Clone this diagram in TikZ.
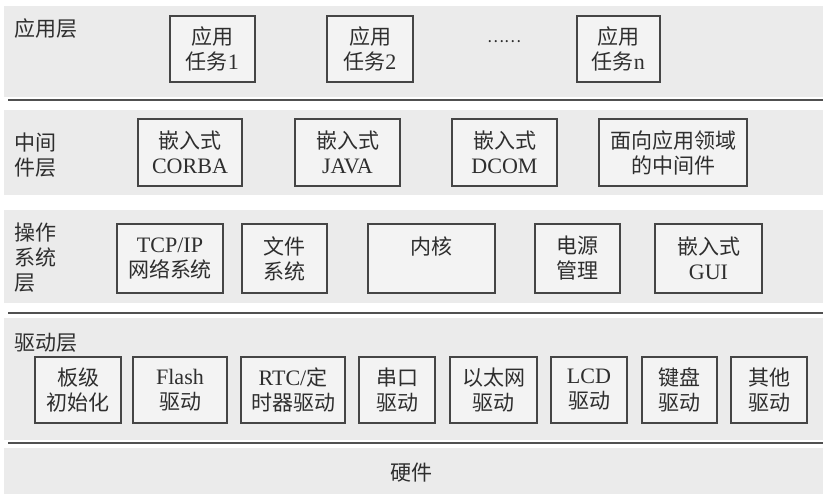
\documentclass[tikz,border=0pt]{standalone}
\usepackage{fontspec}
\setmainfont{Liberation Serif}[Scale=1.05]
\newfontfamily\cjk{Noto Sans CJK SC}
\definecolor{bandc}{HTML}{EBEBEB}
\definecolor{boxfill}{HTML}{F3F3F3}
\definecolor{boxline}{HTML}{454545}
\definecolor{txtc}{HTML}{2E2E2E}
\definecolor{rulec}{HTML}{505050}
\tikzset{
  band/.style={fill=bandc, draw=none},
  rulel/.style={draw=rulec, line width=1.6pt},
  box/.style={draw=boxline, line width=2pt, fill=boxfill, align=center, text=txtc,
    font=\fontsize{21}{25}\selectfont, inner sep=0pt, minimum height=#1},
  box/.default=66pt,
  lbl/.style={text=txtc, align=left, font=\fontsize{21}{25}\selectfont\cjk, inner sep=0pt}
}
\begin{document}
\begin{tikzpicture}[x=1pt,y=-1pt]
\useasboundingbox (0,0) rectangle (823,494);
\fill[white] (0,0) rectangle (823,494);
% bands
\path[band] (4,6) rectangle (823,97);
\path[band] (4,110) rectangle (823,195);
\path[band] (4,210) rectangle (823,303);
\path[band] (4,318) rectangle (823,440);
\path[band] (4,448) rectangle (823,494);
% rules
\draw[rulel] (8,100) -- (823,100);
\draw[rulel] (8,313) -- (823,313);
\draw[rulel] (8,443) -- (823,443);
% layer labels
\node[lbl, anchor=west] (lapp) at (14,29) {应用层};
\node[lbl, anchor=west] (lmid) at (14,155) {中间\\件层};
\node[lbl, anchor=west] (los) at (14,258) {操作\\系统\\层};
\node[lbl, anchor=west] (ldrv) at (14,343) {驱动层};
\node[lbl, anchor=center] (lhw) at (411,473) {硬件};
% application layer
\node[box, minimum width=85pt] (a1) at (212.5,49) {{\cjk 应用}\\{\cjk 任务}1};
\node[box, minimum width=86pt] (a2) at (370,49) {{\cjk 应用}\\{\cjk 任务}2};
\node[text=txtc, inner sep=0pt, font=\fontsize{16}{16}\selectfont\cjk] (adots) at (504,42) {……};
\node[box, minimum width=83pt] (an) at (618.5,49) {{\cjk 应用}\\{\cjk 任务}n};
% middleware
\node[box=67pt, minimum width=104pt] (m1) at (190,152.5) {{\cjk 嵌入式}\\CORBA};
\node[box=67pt, minimum width=105pt] (m2) at (347.5,152.5) {{\cjk 嵌入式}\\JAVA};
\node[box=67pt, minimum width=105pt] (m3) at (504.5,152.5) {{\cjk 嵌入式}\\DCOM};
\node[box=67pt, minimum width=148pt] (m4) at (673,152.5) {{\cjk 面向应用领域}\\{\cjk 的中间件}};
% OS
\node[box=69pt, minimum width=106pt] (o1) at (170,258.5) {TCP/IP\\{\cjk 网络系统}};
\node[box=69pt, minimum width=85pt] (o2) at (284.5,258.5) {{\cjk 文件}\\{\cjk 系统}};
\node[box=69pt, minimum width=127pt] (o3) at (431.5,258.5) {{\cjk 内核}\\\mbox{}};
\node[box=69pt, minimum width=85pt] (o4) at (577.5,258.5) {{\cjk 电源}\\{\cjk 管理}};
\node[box=69pt, minimum width=107pt] (o5) at (708.5,258.5) {{\cjk 嵌入式}\\GUI};
% drivers
\node[box, minimum width=86pt] (d1) at (78,390) {{\cjk 板级}\\{\cjk 初始化}};
\node[box, minimum width=94pt] (d2) at (180,390) {Flash\\{\cjk 驱动}};
\node[box, minimum width=104pt] (d3) at (293,390) {RTC/{\cjk 定}\\{\cjk 时器驱动}};
\node[box, minimum width=76pt] (d4) at (397,390) {{\cjk 串口}\\{\cjk 驱动}};
\node[box, minimum width=87pt] (d5) at (493.5,390) {{\cjk 以太网}\\{\cjk 驱动}};
\node[box, minimum width=76pt] (d6) at (589,390) {LCD\\{\cjk 驱动}};
\node[box, minimum width=75pt] (d7) at (679.5,390) {{\cjk 键盘}\\{\cjk 驱动}};
\node[box, minimum width=76pt] (d8) at (769,390) {{\cjk 其他}\\{\cjk 驱动}};
\end{tikzpicture}
\end{document}
